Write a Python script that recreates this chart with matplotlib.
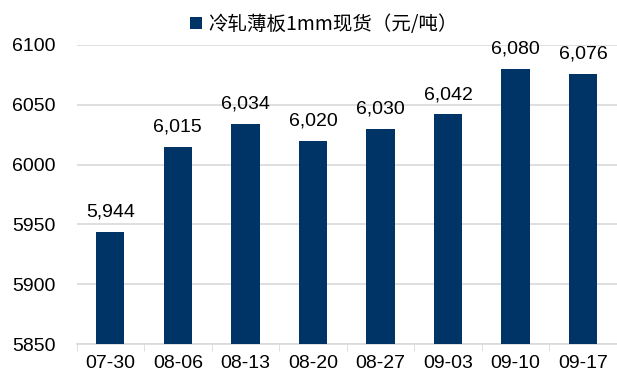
import matplotlib.pyplot as plt
from matplotlib.patches import Patch
import numpy as np

plt.rcParams['font.family'] = ['Liberation Sans', 'Noto Sans CJK SC', 'DejaVu Sans']

dates = ['07-30', '08-06', '08-13', '08-20', '08-27', '09-03', '09-10', '09-17']
prices = [5944, 6015, 6034, 6020, 6030, 6042, 6080, 6076]
legend_label = '冷轧薄板1mm现货（元/吨）'

navy = '#003366'
grid_gray = '#D9D9D9'

fig = plt.figure(figsize=(6.17, 3.81), dpi=100)
ax = fig.add_axes([0.124, 0.097, 0.876, 0.785])

x = np.arange(len(dates))
bars = ax.bar(x, prices, width=0.42, color=navy, zorder=3)

for xi, v in zip(x, prices):
    ax.annotate(f'{v:,}', xy=(xi, v), xytext=(0, 8), textcoords='offset points',
                ha='center', va='bottom', fontsize=14, color='black')

ax.set_ylim(5850, 6100)
ax.set_yticks(range(5850, 6101, 50))
ax.set_xlim(-0.5, len(dates) - 0.5)
ax.set_xticks(x)
ax.set_xticklabels(dates)
ax.set_xticks(np.arange(-0.5, len(dates), 1), minor=True)
ax.tick_params(axis='x', which='major', length=0, labelsize=14, pad=8)
ax.tick_params(axis='x', which='minor', length=5, color=grid_gray)
ax.tick_params(axis='y', length=0, labelsize=14, pad=15)

ax.yaxis.grid(True, color=grid_gray, linewidth=1.2, zorder=0)
for s in ['top', 'right', 'left']:
    ax.spines[s].set_visible(False)
ax.spines['bottom'].set_color(grid_gray)
ax.spines['bottom'].set_linewidth(1.2)

handle = Patch(facecolor=navy, label=legend_label)
fig.legend(handles=[handle], loc='upper center', bbox_to_anchor=(0.525, 1.01),
           frameon=False, handlelength=0.6, handleheight=0.6,
           handletextpad=0.3, prop={'family': ['Noto Sans CJK SC', 'DejaVu Sans'], 'size': 14})

fig.savefig('out.png', dpi=100)
